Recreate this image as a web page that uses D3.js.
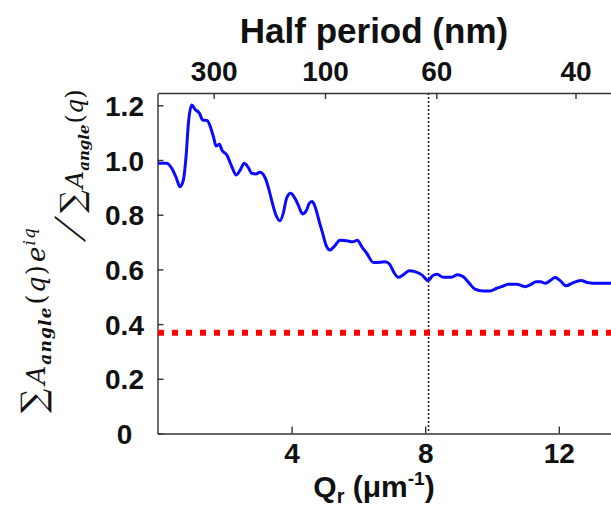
<!DOCTYPE html>
<html>
<head>
<meta charset="utf-8">
<script src="https://cdn.jsdelivr.net/npm/d3@7"></script>
<style>
  body { margin: 0; background: #fff; }
  svg { display: block; }
  .tick-label { font-family: "Liberation Sans", Arial, sans-serif; font-weight: bold; font-size: 28px; fill: #111; }
  .math { font-family: "DejaVu Serif", "Liberation Serif", serif; font-size: 26px; fill: #111; }
</style>
</head>
<body>
<div id="chart"></div>
<script>
// data
const qr = [0, 0.26, 0.41, 0.54, 0.66, 0.76, 0.84, 0.91, 1.01, 1.11,
  1.24, 1.34, 1.48, 1.56, 1.66, 1.74, 1.84, 1.91, 2.06, 2.21,
  2.34, 2.46, 2.58, 2.70, 2.81, 2.93, 3.05, 3.20, 3.30, 3.40,
  3.53, 3.65, 3.75, 3.85, 3.97, 4.10, 4.20, 4.33, 4.45, 4.53,
  4.62, 4.72, 4.83, 4.93, 5.03, 5.15, 5.27, 5.45, 5.65, 5.83,
  5.97, 6.10, 6.25, 6.45, 6.65, 6.80, 6.93, 7.05, 7.20, 7.34,
  7.52, 7.69, 7.90, 8.09, 8.22, 8.36, 8.54, 8.79, 8.96, 9.14,
  9.32, 9.49, 9.74, 9.94, 10.14, 10.29, 10.49, 10.74, 10.99, 11.14,
  11.32, 11.46, 11.59, 11.74, 11.89, 12.04, 12.22, 12.42, 12.66, 12.89,
  13.14, 13.56, 14.0]
const ratio = [0.988, 0.988, 0.970, 0.937, 0.902, 0.927, 1.012, 1.134, 1.201, 1.185,
  1.171, 1.146, 1.144, 1.124, 1.085, 1.051, 1.058, 1.037, 1.018, 0.976,
  0.945, 0.963, 0.988, 0.973, 0.951, 0.949, 0.955, 0.937, 0.902, 0.854,
  0.799, 0.778, 0.805, 0.860, 0.878, 0.860, 0.835, 0.803, 0.817, 0.842,
  0.848, 0.823, 0.774, 0.732, 0.689, 0.671, 0.683, 0.707, 0.705, 0.701,
  0.707, 0.683, 0.659, 0.625, 0.626, 0.628, 0.620, 0.592, 0.571, 0.580,
  0.595, 0.592, 0.580, 0.559, 0.577, 0.582, 0.571, 0.571, 0.580, 0.573,
  0.549, 0.528, 0.521, 0.521, 0.531, 0.537, 0.546, 0.546, 0.537, 0.543,
  0.555, 0.555, 0.549, 0.559, 0.570, 0.559, 0.540, 0.551, 0.559, 0.551,
  0.549, 0.549, 0.548]
const xTicks = [4, 8, 12]
const yTicks = [0, 0.2, 0.4, 0.6, 0.8, 1.0, 1.2]
const yTickLabels = ['0', '0.2', '0.4', '0.6', '0.8', '1.0', '1.2']
const halfPeriodTicks = [300, 100, 60, 40]   // nm, half period = 500 / Qr
const thresholdValue = 0.368                 // 1/e level
const markerQ = 8.1

const width = 611, height = 516
const plot = {left: 158, top: 93, bottom: 433.5}

const svg = d3.select('#chart').append('svg')
    .attr('width', width)
    .attr('height', height)

svg.append('rect').attr('width', width).attr('height', height).attr('fill', '#fff')

const x = d3.scaleLinear().domain([0, 14]).range([plot.left, plot.left + 33.4 * 14])
const y = d3.scaleLinear().domain([0, 1.245]).range([plot.bottom, plot.top])
const xTop = d3.scaleLinear().domain([0, 14]).range(x.range())

svg.append('defs').append('clipPath').attr('id', 'clip')
  .append('rect')
    .attr('x', plot.left).attr('y', plot.top)
    .attr('width', width - plot.left).attr('height', plot.bottom - plot.top)

// axes (ticks point inward)
const bottomAxis = svg.append('g')
    .attr('transform', `translate(0,${plot.bottom})`)
    .call(d3.axisBottom(x).tickValues(xTicks).tickSize(-7).tickSizeOuter(0).tickPadding(10))
const leftAxis = svg.append('g')
    .attr('transform', `translate(${plot.left - 0.5},0)`)
    .call(d3.axisLeft(y).tickValues(yTicks).tickSize(-6).tickSizeOuter(0)
      .tickFormat((d, i) => yTickLabels[i]))
const topAxis = svg.append('g')
    .attr('transform', `translate(0,${plot.top})`)
    .call(d3.axisTop(xTop).tickValues(halfPeriodTicks.map(h => 500 / h))
      .tickFormat((d, i) => halfPeriodTicks[i]).tickSize(-6).tickSizeOuter(0).tickPadding(12))

;[bottomAxis, leftAxis, topAxis].forEach(g => {
  g.selectAll('.domain').attr('stroke', '#333').attr('stroke-width', 1.4)
  g.selectAll('.tick line').attr('stroke', '#333').attr('stroke-width', 1.4)
  g.selectAll('.tick text').attr('class', 'tick-label')
})
leftAxis.selectAll('.tick text')
    .attr('text-anchor', 'middle')
    .attr('x', -33)
    .attr('dy', '0.36em')

// curves
const plotArea = svg.append('g').attr('clip-path', 'url(#clip)')

plotArea.append('line')
    .attr('x1', x(markerQ)).attr('x2', x(markerQ))
    .attr('y1', y.range()[1]).attr('y2', y.range()[0])
    .attr('stroke', '#222')
    .attr('stroke-width', 1.6)
    .attr('stroke-dasharray', '2,2')

plotArea.append('line')
    .attr('x1', x(0)).attr('x2', x(14))
    .attr('y1', y(thresholdValue)).attr('y2', y(thresholdValue))
    .attr('stroke', '#ff0000')
    .attr('stroke-width', 6)
    .attr('stroke-dasharray', '6,8')

const line = d3.line()
    .x(d => x(d[0]))
    .y(d => y(d[1]))
    .curve(d3.curveMonotoneX)

plotArea.append('path')
    .datum(d3.zip(qr, ratio))
    .attr('fill', 'none')
    .attr('stroke', '#0a0aff')
    .attr('stroke-width', 3)
    .attr('stroke-linejoin', 'round')
    .attr('d', line)

// titles
svg.append('text')
    .attr('x', 374).attr('y', 43)
    .attr('text-anchor', 'middle')
    .style('font', 'bold 35px "Liberation Sans", Arial, sans-serif')
    .attr('fill', '#111')
    .text('Half period (nm)')

const xt = svg.append('text')
    .attr('x', 374).attr('y', 497)
    .attr('text-anchor', 'middle')
    .style('font', 'bold 30px "Liberation Sans", Arial, sans-serif')
    .attr('fill', '#111')
xt.append('tspan').text('Q')
xt.append('tspan').attr('dy', 6).style('font-size', '20px').text('r')
xt.append('tspan').attr('dy', -6).text(' (\u03bcm')
xt.append('tspan').attr('dy', -12).style('font-size', '19px').text('-1')
xt.append('tspan').attr('dy', 12).text(')')

// y label: sum A_angle(q) e^iq / sum A_angle(q), read bottom to top
const yl = svg.append('g').attr('transform', 'translate(64,413) rotate(-90)')
const it = s => s.style('font-style', 'italic')

const num = yl.append('text').attr('class', 'math')
    .attr('x', 0).attr('y', -19)
    .attr('textLength', 185).attr('lengthAdjust', 'spacing')
num.append('tspan').style('font-size', '34px').text('\u2211')
it(num.append('tspan').attr('dx', 3)).text('A')
it(num.append('tspan').attr('dy', 6)).style('font-weight', 'bold').style('font-size', '17px').text('angle')
num.append('tspan').attr('dy', -6).attr('dx', 2).text('(')
it(num.append('tspan')).text('q')
num.append('tspan').text(')')
it(num.append('tspan').attr('dx', 2)).text('e')
it(num.append('tspan').attr('dy', -10)).style('font-size', '17px').text('iq')

yl.append('text')
    .attr('transform', 'translate(171,21) skewX(-24)')
    .style('font-family', '"Liberation Serif", serif')
    .style('font-size', '46px')
    .attr('fill', '#111')
    .text('/')

const den = yl.append('text').attr('class', 'math')
    .attr('x', 200).attr('y', 19)
    .style('font-size', '24px')
den.append('tspan').style('font-size', '32px').text('\u2211')
it(den.append('tspan').attr('dx', 2)).text('A')
it(den.append('tspan').attr('dy', 6)).style('font-weight', 'bold').style('font-size', '15px').text('angle')
den.append('tspan').attr('dy', -6).attr('dx', 1).text('(')
it(den.append('tspan')).text('q')
den.append('tspan').text(')')
</script>
</body>
</html>
